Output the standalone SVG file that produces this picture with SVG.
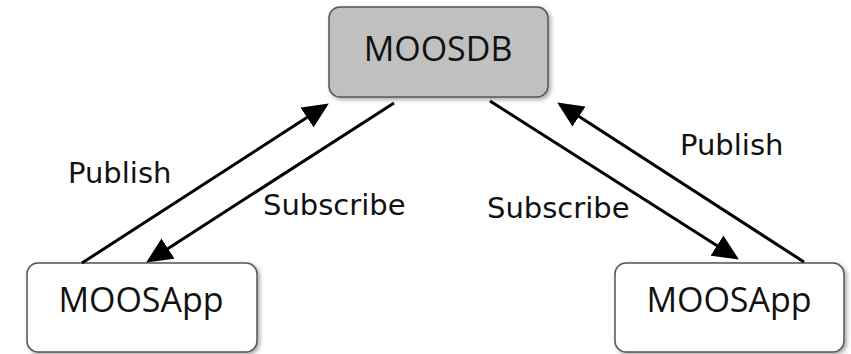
<svg xmlns="http://www.w3.org/2000/svg" width="851" height="354" viewBox="0 0 851 354">
  <style>
    .box { stroke: #555555; stroke-width: 1.5; }
    .db { fill: #c0c0c0; }
    .app { fill: #ffffff; }
    .name { font-family: "Open Sans", "Liberation Sans", sans-serif; font-size: 34px; fill: #111111; text-anchor: middle; }
    .lbl { font-family: "DejaVu Sans", "Noto Sans", sans-serif; font-size: 29px; fill: #111111; }
    .edge { stroke: #000000; stroke-width: 3; fill: none; marker-end: url(#head); }
  </style>
  <defs>
    <marker id="head" markerUnits="userSpaceOnUse" markerWidth="27" markerHeight="24" refX="10" refY="12" orient="auto">
      <path d="M0,0 L26,12 L0,24 z" fill="#000000"/>
    </marker>
    <filter id="shadow" x="-10%" y="-10%" width="125%" height="130%">
      <feDropShadow dx="2" dy="2" stdDeviation="2" flood-color="#000000" flood-opacity="0.35"/>
    </filter>
  </defs>
  <rect width="851" height="354" fill="#ffffff"/>

  <g id="moosdb">
    <rect class="box db" x="329" y="7" width="219" height="90" rx="11" filter="url(#shadow)"/>
    <text class="name" x="438" y="61">MOOSDB</text>
  </g>

  <g id="moosapp-left">
    <rect class="box app" x="27" y="263" width="230" height="89" rx="11" filter="url(#shadow)"/>
    <text class="name" x="141" y="312">MOOSApp</text>
  </g>

  <g id="moosapp-right">
    <rect class="box app" x="615" y="263" width="229" height="89" rx="11" filter="url(#shadow)"/>
    <text class="name" x="729" y="312">MOOSApp</text>
  </g>

  <g id="connectors">
    <line class="edge" x1="82" y1="263" x2="315.4" y2="112.1"/>
    <line class="edge" x1="394" y1="103" x2="159.6" y2="253.9"/>
    <line class="edge" x1="490" y1="101" x2="725.4" y2="250.9"/>
    <line class="edge" x1="804" y1="262" x2="570.6" y2="111.1"/>
    <text class="lbl" x="68" y="183">Publish</text>
    <text class="lbl" x="263" y="215">Subscribe</text>
    <text class="lbl" x="487" y="218">Subscribe</text>
    <text class="lbl" x="680" y="155">Publish</text>
  </g>
</svg>
